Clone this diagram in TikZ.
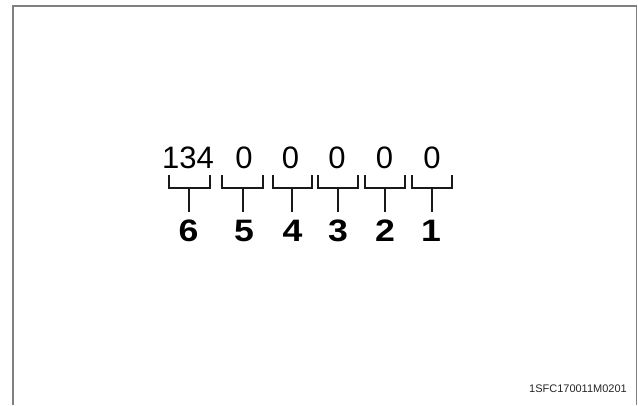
\documentclass[tikz,border=0pt]{standalone}
\usepackage{fontspec}
\setmainfont{Liberation Sans}
\begin{document}
\begin{tikzpicture}[x=1pt, y=-1pt,
  digit/.style={anchor=base, inner sep=0pt, font=\fontsize{31}{32}\selectfont},
  label node/.style={anchor=base, inner sep=0pt, xscale=1.15, font=\fontsize{31}{32}\selectfont\bfseries},
  bracket/.style={draw=black!90, line width=1.6pt},
  frame/.style={draw=black!50, line width=1.5pt}]

  \useasboundingbox (0,0) rectangle (638,405);

  % cadre
  \draw[frame] (13,405) -- (13,6) -- (636.5,6) -- (636.5,405);

  % chiffres du code
  \node[digit] (d6) at (188,168) {134};
  \node[digit] (d5) at (244,168) {0};
  \node[digit] (d4) at (290.5,168) {0};
  \node[digit] (d3) at (337,168) {0};
  \node[digit] (d2) at (384.5,168) {0};
  \node[digit] (d1) at (432,168) {0};

  % accolades
  \coordinate (b6) at (189,188);
  \coordinate (b5) at (243,188);
  \coordinate (b4) at (292,188);
  \coordinate (b3) at (338,188);
  \coordinate (b2) at (385,188);
  \coordinate (b1) at (432,188);

  \draw[bracket] (169,175) |- (210,188) -- (210,175);
  \draw[bracket] (222,175) |- (263,188) -- (263,175);
  \draw[bracket] (273,175) |- (312,188) -- (312,175);
  \draw[bracket] (318,175) |- (358,188) -- (358,175);
  \draw[bracket] (365,175) |- (405,188) -- (405,175);
  \draw[bracket] (412,175) |- (452,188) -- (452,175);

  % numeros
  \node[label node] (n6) at (188.5,241) {6};
  \node[label node] (n5) at (244,241) {5};
  \node[label node] (n4) at (292.5,241) {4};
  \node[label node] (n3) at (338,241) {3};
  \node[label node] (n2) at (385,241) {2};
  \node[label node] (n1) at (431,241) {1};

  \draw[bracket] (b6) -- (b6 |- 0,212);
  \draw[bracket] (b5) -- (b5 |- 0,212);
  \draw[bracket] (b4) -- (b4 |- 0,212);
  \draw[bracket] (b3) -- (b3 |- 0,212);
  \draw[bracket] (b2) -- (b2 |- 0,212);
  \draw[bracket] (b1) -- (b1 |- 0,212);

  % reference
  \node[anchor=base east, inner sep=0pt, font=\fontsize{11}{13}\selectfont, text=black!85] (ref) at (627,392) {1SFC170011M0201};
\end{tikzpicture}
\end{document}
